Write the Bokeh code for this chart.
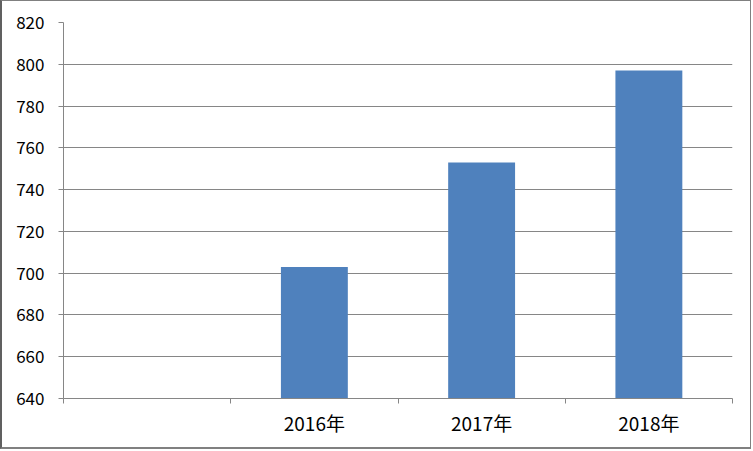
from bokeh.plotting import figure
from bokeh.models import FixedTicker, Range1d, ColumnDataSource
from bokeh.embed import file_html
from bokeh.resources import INLINE

categories = ["", "2016年", "2017年", "2018年"]
values = [None, 703, 753, 797]
y_ticks = [640, 660, 680, 700, 720, 740, 760, 780, 800, 820]

xs = [i + 0.5 for i, v in enumerate(values) if v is not None]
tops = [v for v in values if v is not None]
src = ColumnDataSource(dict(x=xs, top=tops))

p = figure(width=751, height=449, output_backend="svg", toolbar_location=None,
           x_range=Range1d(0, len(categories)), y_range=Range1d(640, 820),
           min_border_left=61, min_border_right=21, min_border_top=21, min_border_bottom=52)
p.styles = {"border": "1px solid #808080", "border-left": "2px solid #606060",
            "border-bottom": "2px solid #808080"}

p.vbar(x="x", top="top", bottom=640, width=0.4, source=src,
       fill_color="#4F81BD", line_color=None)

p.outline_line_color = None
p.background_fill_color = "white"
p.border_fill_color = "white"

grid_col = "#868686"
# x axis
p.xaxis.ticker = FixedTicker(ticks=[i + 0.5 for i in range(len(categories))],
                             minor_ticks=list(range(len(categories) + 1)))
p.xaxis.major_label_overrides = {i + 0.5: c for i, c in enumerate(categories)}
p.xaxis.major_tick_line_color = None
p.xaxis.major_tick_out = 0
p.xaxis.major_tick_in = 0
p.xaxis.minor_tick_out = 5
p.xaxis.minor_tick_in = 0
p.xaxis.minor_tick_line_color = grid_col
p.xaxis.axis_line_color = grid_col
p.xaxis.major_label_standoff = 5
p.xaxis.major_label_text_font = "Noto Sans CJK SC"
p.xaxis.major_label_text_font_size = "19px"
p.xaxis.major_label_text_color = "black"
p.xgrid.grid_line_color = None

# y axis
p.yaxis.ticker = FixedTicker(ticks=y_ticks)
p.yaxis.major_tick_out = 5
p.yaxis.major_tick_in = 0
p.yaxis.minor_tick_line_color = None
p.yaxis.major_tick_line_color = grid_col
p.yaxis.axis_line_color = grid_col
p.yaxis.major_label_standoff = 14
p.yaxis.major_label_text_font = "Noto Sans CJK SC"
p.yaxis.major_label_text_font_size = "17px"
p.yaxis.major_label_text_color = "black"
p.ygrid.grid_line_color = grid_col

open("out.html", "w").write(file_html(p, INLINE))
